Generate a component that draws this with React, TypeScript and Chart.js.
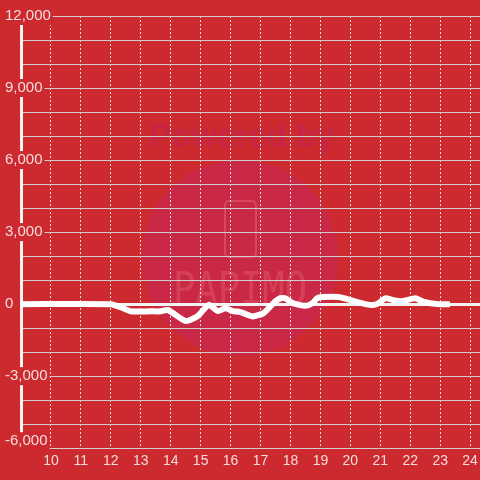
import { useEffect, useRef } from 'react';
import { Chart, registerables } from 'chart.js';

Chart.register(...registerables);

// Hours of the day (x) and values (y)
const hours = [9, 12, 12.33, 12.67, 13.33, 13.67, 13.9, 14.5, 14.9, 15.27, 15.57, 15.83, 16.07, 16.33, 16.73, 17.1, 17.43, 17.67, 17.83, 18.07, 18.5, 18.73, 18.9, 19.07, 19.6, 19.9, 20.17, 20.5, 20.73, 20.93, 21.17, 21.43, 21.73, 22.17, 22.43, 22.93, 23.33];
const values = [0, 0, -125, -300, -300, -300, -240, -700, -500, -30, -290, -170, -290, -330, -510, -375, 40, 250, 240, 40, -70, 40, 250, 300, 300, 210, 100, 0, -40, 30, 240, 170, 125, 240, 100, 0, 0];

// Axis ticks
const xLabelHours = [10, 11, 12, 13, 14, 15, 16, 17, 18, 19, 20, 21, 22, 23, 24];
const yLabelValues = [-6000, -3000, 0, 3000, 6000, 9000, 12000];

const BG = 'rgb(205,42,48)';
const FONT = '"Liberation Sans", Arial, sans-serif';
const fmt = (n: number) => n.toLocaleString('en-US');

const watermark = {
  id: 'watermark',
  beforeDraw(chart: any) {
    const { ctx, width, height } = chart;
    ctx.save();
    ctx.fillStyle = BG;
    ctx.fillRect(0, 0, width, height);
    const cx = width * 0.5;
    const cy = height * 0.5375;
    ctx.fillStyle = 'rgb(201,40,70)';
    ctx.beginPath();
    ctx.arc(cx, cy, 98, 0, Math.PI * 2);
    ctx.fill();
    ctx.font = 'bold 33px ' + FONT;
    ctx.textAlign = 'center';
    ctx.textBaseline = 'alphabetic';
    ctx.fillStyle = 'rgb(198,38,68)';
    ctx.fillText('Powered by', cx + 2, cy - 111);
    // phone outline
    ctx.strokeStyle = 'rgba(235,110,120,0.45)';
    ctx.lineWidth = 2;
    ctx.beginPath();
    (ctx as any).roundRect(cx - 15, cy - 57, 31, 56, 4);
    ctx.stroke();
    // PAPIMO
    ctx.font = '44px "DejaVu Sans Mono", monospace';
    ctx.fillStyle = 'rgba(235,110,115,0.35)';
    ctx.fillText('PAPIMO', cx, cy + 46, 134);
    ctx.restore();

    // lift the lowest y label slightly above its grid line, as in the reference
    try {
      const y = chart.scales.y;
      const items = y.getLabelItems(chart.chartArea) || [];
      const low = items.find((it: any) => it.label === fmt(yLabelValues[0]));
      const tr = low && low.options && low.options.translation;
      if (tr && !low._lifted) {
        low.options.translation = [tr[0], tr[1] - 7];
        low._lifted = true;
      }
    } catch (e) {
      /* ignore */
    }
  },
};

export default function App() {
  const ref = useRef<HTMLCanvasElement | null>(null);

  useEffect(() => {
    if (!ref.current) return;
    const chart = new Chart(ref.current, {
      type: 'line',
      data: {
        datasets: [
          {
            data: hours.map((h, i) => ({ x: h, y: values[i] })),
            borderColor: '#ffffff',
            borderWidth: 6,
            pointRadius: 0,
            tension: 0.2,
            borderJoinStyle: 'round',
            fill: false,
          },
        ],
      },
      options: {
        responsive: false,
        devicePixelRatio: 1,
        animation: false,
        layout: { padding: { top: 16, left: 5, right: 0, bottom: 5 } },
        plugins: { legend: { display: false }, tooltip: { enabled: false } },
        scales: {
          x: {
            type: 'linear',
            position: 'bottom',
            min: 9,
            max: 24.33,
            afterFit: (s: any) => {
              s.paddingLeft = 0;
              s.paddingRight = 0;
            },
            ticks: {
              stepSize: 1,
              includeBounds: false,
              autoSkip: false,
              maxRotation: 0,
              padding: 5,
              color: '#f3dcdc',
              font: { size: 14, family: FONT },
              callback: (v: any) => (xLabelHours.includes(Number(v)) ? String(v) : ''),
            },
            grid: {
              drawTicks: false,
              color: (c: any) => (c.tick && xLabelHours.includes(c.tick.value) ? '#e4e0e0' : 'rgba(0,0,0,0)'),
              lineWidth: 1,
            },
            border: { display: false, dash: [2, 2] },
          },
          y: {
            type: 'linear',
            position: 'left',
            min: -6000,
            max: 12000,
            afterFit: (s: any) => {
              s.width = 16;
            },
            ticks: {
              stepSize: 1000,
              autoSkip: false,
              mirror: true,
              padding: -16,
              color: '#f3dcdc',
              font: { size: 15, family: FONT },
              showLabelBackdrop: (c: any) => yLabelValues.includes(c.tick.value),
              backdropColor: BG,
              backdropPadding: { x: 2, y: 0 },
              callback: (v: any) => (yLabelValues.includes(Number(v)) ? fmt(Number(v)) : ''),
            },
            grid: {
              drawTicks: false,
              color: (c: any) => (c.tick && c.tick.value === 0 ? '#f2f2f2' : '#d2cccc'),
              lineWidth: (c: any) => (c.tick && c.tick.value === 0 ? 3 : 1),
            },
            border: { display: true, color: '#f2f2f2', width: 3 },
          },
        },
      },
      plugins: [watermark],
    } as any);
    return () => chart.destroy();
  }, []);

  return (
    <div style={{ position: 'fixed', left: 0, top: 0, width: 480, height: 480, background: BG }}>
      <canvas ref={ref} width={480} height={480} style={{ display: 'block', width: 480, height: 480 }} />
    </div>
  );
}
